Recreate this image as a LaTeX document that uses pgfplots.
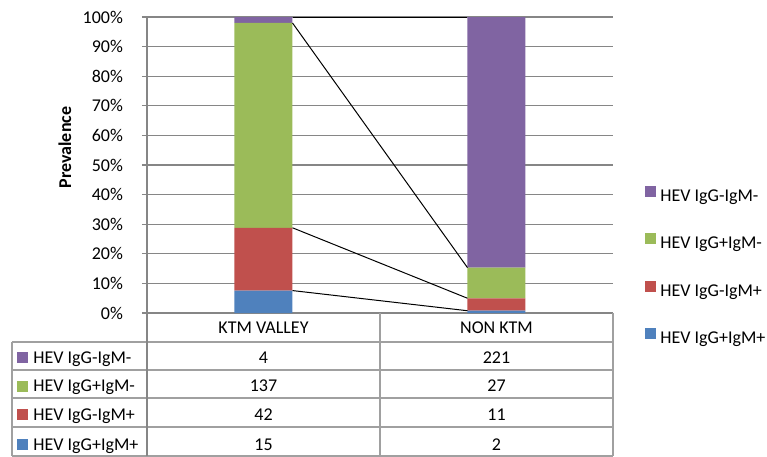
\documentclass[border=0pt]{standalone}
\usepackage{pgfplots}
\pgfplotsset{compat=1.18}
\usepackage{fontspec}
\setmainfont{Carlito}
\definecolor{cblue}{HTML}{4F81BD}
\definecolor{cred}{HTML}{C0504D}
\definecolor{cgreen}{HTML}{9BBB59}
\definecolor{cpurple}{HTML}{8064A2}
\definecolor{cgrid}{HTML}{868686}
\definecolor{ctab}{HTML}{A0A0A0}
\pgfplotsset{sq legend/.style={legend image code/.code={\fill[##1] (0pt,0pt) rectangle (5.5pt,5.5pt);}}}
\begin{document}
\begin{tikzpicture}[font=\fontsize{9}{11}\selectfont]
\path[use as bounding box] (-73.5pt,-71.5pt) rectangle (310pt,156.5pt);
\begin{axis}[
  at={(0pt,0pt)}, anchor=south west,
  scale only axis, width=233pt, height=148pt,
  xmin=-0.5, xmax=1.5, ymin=0, ymax=100,
  enlargelimits=false,
  ybar stacked, bar width=29pt,
  axis lines*=left,
  axis line style={draw=cgrid, line width=0.6pt},
  xtick=\empty,
  ytick={0,10,20,30,40,50,60,70,80,90,100},
  ymajorgrids, grid style={cgrid, line width=0.6pt},
  tick align=outside, major tick length=2.5pt,
  tick style={cgrid, line width=0.6pt},
  /pgf/number format/assume math mode=true,
  yticklabel={\pgfmathprintnumber{\tick}\%},
  yticklabel style={xshift=-6pt, font=\fontsize{9}{11}\selectfont},
  ylabel={Prevalence},
  ylabel style={at={(axis description cs:-0.176,0.559)}, anchor=center, font=\bfseries\fontsize{9}{11}\selectfont},
  reverse legend,
  legend cell align=left,
  legend style={draw=none, fill=none, at={(1.0687,0.157)}, anchor=west, inner sep=0pt,
    row sep=14pt, column sep=2pt,
    nodes={inner sep=0pt, text height=6.5pt, text depth=2pt, font=\fontsize{9}{11}\selectfont}},
]
\addplot[fill=cblue, draw=none, sq legend] coordinates {(0,7.576) (1,0.766)};
\addlegendentry{HEV IgG+IgM+}
\addplot[fill=cred, draw=none, sq legend] coordinates {(0,21.212) (1,4.215)};
\addlegendentry{HEV IgG-IgM+}
\addplot[fill=cgreen, draw=none, sq legend] coordinates {(0,69.192) (1,10.345)};
\addlegendentry{HEV IgG+IgM-}
\addplot[fill=cpurple, draw=none, sq legend] coordinates {(0,2.020) (1,84.674)};
\addlegendentry{HEV IgG-IgM-}
\end{axis}
\begin{axis}[
  at={(0pt,0pt)}, anchor=south west,
  scale only axis, width=233pt, height=148pt,
  xmin=-0.5, xmax=1.5, ymin=0, ymax=100,
  hide axis, clip=false,
]
\addplot[black, line width=0.5pt] coordinates {(0.1245,7.576) (0.8755,0.766)};
\addplot[black, line width=0.5pt] coordinates {(0.1245,28.788) (0.8755,4.981)};
\addplot[black, line width=0.5pt] coordinates {(0.1245,97.980) (0.8755,15.326)};
\addplot[black, line width=0.5pt] coordinates {(0.1245,100) (0.8755,100)};
\end{axis}
% data table
\begin{scope}[ctab, line width=0.6pt]
\foreach \y in {-14.5,-28.5,-42.5,-57,-71.5} \draw (-67.5pt,\y pt) -- (233pt,\y pt);
\draw (-67.5pt,-14.5pt) -- (-67.5pt,-71.5pt);
\draw (116.5pt,0pt) -- (116.5pt,-71.5pt);
\draw (233pt,0pt) -- (233pt,-71.5pt);
\end{scope}
\draw[cgrid, line width=0.6pt] (0pt,0pt) -- (0pt,-71.5pt);
\node[anchor=base, inner sep=0pt] at (58.25pt,-10.15pt) {KTM VALLEY};
\node[anchor=base, inner sep=0pt] at (174.75pt,-10.15pt) {NON KTM};
% rows
\fill[cpurple] (-65pt,-25.1pt) rectangle ++(5.5pt,5.5pt);
\node[anchor=base west, inner sep=0pt] at (-57pt,-25.1pt) {HEV IgG-IgM-};
\node[anchor=base, inner sep=0pt] at (58.25pt,-25.1pt) {4};
\node[anchor=base, inner sep=0pt] at (174.75pt,-25.1pt) {221};
\fill[cgreen] (-65pt,-39.3pt) rectangle ++(5.5pt,5.5pt);
\node[anchor=base west, inner sep=0pt] at (-57pt,-39.3pt) {HEV IgG+IgM-};
\node[anchor=base, inner sep=0pt] at (58.25pt,-39.3pt) {137};
\node[anchor=base, inner sep=0pt] at (174.75pt,-39.3pt) {27};
\fill[cred] (-65pt,-53.5pt) rectangle ++(5.5pt,5.5pt);
\node[anchor=base west, inner sep=0pt] at (-57pt,-53.5pt) {HEV IgG-IgM+};
\node[anchor=base, inner sep=0pt] at (58.25pt,-53.5pt) {42};
\node[anchor=base, inner sep=0pt] at (174.75pt,-53.5pt) {11};
\fill[cblue] (-65pt,-68.5pt) rectangle ++(5.5pt,5.5pt);
\node[anchor=base west, inner sep=0pt] at (-57pt,-68.5pt) {HEV IgG+IgM+};
\node[anchor=base, inner sep=0pt] at (58.25pt,-68.5pt) {15};
\node[anchor=base, inner sep=0pt] at (174.75pt,-68.5pt) {2};
\end{tikzpicture}
\end{document}
